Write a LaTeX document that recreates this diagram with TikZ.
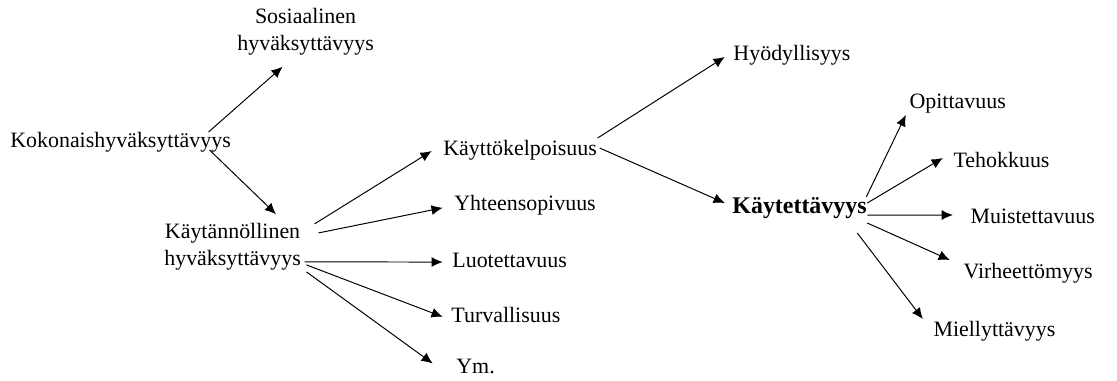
\documentclass[tikz,border=0pt]{standalone}
\usepackage{fontspec}
\setmainfont{Liberation Serif}
\usetikzlibrary{arrows.meta, positioning}

\begin{document}
\begin{tikzpicture}[
  x=0.025cm, y=-0.025cm,
  term/.style={inner sep=1pt, anchor=west, text height=11pt, text depth=3.5pt,
               font=\fontsize{15.6}{19.2}\selectfont},
  pairterm/.style={inner sep=1pt, anchor=west, align=center,
               font=\fontsize{15.6}{19.2}\selectfont},
  mainterm/.style={term, font=\fontsize{17}{19.2}\selectfont\bfseries},
  arrow/.style={-{Latex[length=2.8mm, width=2.5mm]}, line width=0.7pt}
]
\useasboundingbox (0,0) rectangle (1117,381);

\node[term] (koko) at (8.6,142) {Kokonaishyväksyttävyys};
\node[pairterm, right=5.675cm of koko.west, yshift=2.76cm] (sos) {Sosiaalinen\\hyväksyttävyys};
\node[pairterm, right=3.85cm of koko.west, yshift=-2.61cm] (prak) {Käytännöllinen\\hyväksyttävyys};

% toinen taso
\node[term, right=6.975cm of prak.west, yshift=2.41cm] (kelp) {Käyttökelpoisuus};
\node[term, right=7.25cm of prak.west, yshift=1.04cm] (yht) {Yhteensopivuus};
\node[term, right=7.2cm of prak.west, yshift=-0.39cm] (luo) {Luotettavuus};
\node[term, right=7.175cm of prak.west, yshift=-1.76cm] (tur) {Turvallisuus};
\node[term, right=7.3cm of prak.west, yshift=-3.05cm] (ym) {Ym.};

\node[term, right=7.25cm of kelp.west, yshift=2.375cm] (hyod) {Hyödyllisyys};
\node[mainterm, right=7.225cm of kelp.west, yshift=-1.45cm] (kayt) {Käytettävyys};

% kaytettavyyden osat
\node[term, right=4.425cm of kayt.west, yshift=2.625cm] (opi) {Opittavuus};
\node[term, right=5.525cm of kayt.west, yshift=1.15cm] (teh) {Tehokkuus};
\node[term, right=5.95cm of kayt.west, yshift=-0.25cm] (mui) {Muistettavuus};
\node[term, right=5.775cm of kayt.west, yshift=-1.625cm] (vir) {Virheettömyys};
\node[term, right=5.025cm of kayt.west, yshift=-3.075cm] (mie) {Miellyttävyys};

\draw[arrow] ([shift={(-24,-10)}]koko.east) -- ([shift={(-23,10)}]sos.south);
\draw[arrow] ([shift={(-23,8)}]koko.east) -- ([shift={(43.5,-7)}]prak.north);

\draw[arrow] ([shift={(12,-22.5)}]prak.east) -- ([shift={(-10,1)}]kelp.west);
\draw[arrow] ([shift={(16,-13.5)}]prak.east) -- ([shift={(-10,3)}]yht.west);
\draw[arrow] ([shift={(2,15.5)}]prak.east) -- ([shift={(-8,0)}]luo.west);
\draw[arrow] ([shift={(4,18.5)}]prak.east) -- ([shift={(-7,0)}]tur.west);
\draw[arrow] ([shift={(4,25.5)}]prak.east) -- ([shift={(-22,-5)}]ym.west);

\draw[arrow] ([shift={(-1,-12)}]kelp.east) -- ([shift={(-7,2)}]hyod.west);
\draw[arrow] ([shift={(1,-2)}]kelp.east) -- ([shift={(-6,-5)}]kayt.west);

\draw[arrow] ([shift={(-2,-11)}]kayt.east) -- ([shift={(-2,12)}]opi.west);
\draw[arrow] ([shift={(-1,-5)}]kayt.east) -- ([shift={(-9,-4)}]teh.west);
\draw[arrow] ([shift={(-1,7)}]kayt.east) -- ([shift={(-16,-3)}]mui.west);
\draw[arrow] ([shift={(-1,15)}]kayt.east) -- ([shift={(-12,-13)}]vir.west);
\draw[arrow] ([shift={(-11,25)}]kayt.east) -- ([shift={(-9,-12)}]mie.west);
\end{tikzpicture}
\end{document}
